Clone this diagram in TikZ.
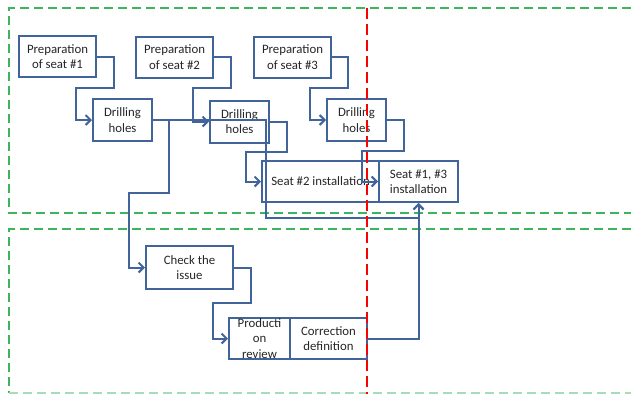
\documentclass[tikz,border=0pt]{standalone}
\usepackage{fontspec}
\setmainfont{Carlito}
\usetikzlibrary{arrows.meta}
\definecolor{boxblue}{HTML}{41659A}
\definecolor{dgreen}{HTML}{3DB55C}
\definecolor{lgreen}{HTML}{A6DDB6}
\definecolor{txt}{HTML}{262626}
\tikzset{
  box/.style={draw=boxblue, line width=2pt, fill=white, inner sep=0pt, align=center,
    text=txt, font=\fontsize{12.8}{15.3}\selectfont},
  conn/.style={draw=boxblue, line width=2pt},
  arr/.style={conn, -{Straight Barb[length=5pt,width=10pt,line width=2pt]}},
  zone/.style={draw=dgreen, line width=1.4pt, dash pattern=on 9pt off 5pt},
  redline/.style={draw=red, line width=2.4pt, dash pattern=on 11pt off 5pt}
}
\begin{document}
\begin{tikzpicture}[x=1pt,y=-1pt]
\useasboundingbox (0,0) rectangle (631,394);
% zones
\draw[zone] (631,8) -- (9,8) -- (9,213) -- (631,213);
\draw[zone] (631,229) -- (9,229) -- (9,393);
\draw[zone, draw=lgreen] (9,393) -- (631,393);
% boxes
\node[box, minimum width=77pt, minimum height=41pt] (p1) at (57.5,56.5) {Preparation\\of seat \#1};
\node[box, minimum width=77pt, minimum height=41pt] (p2) at (174.5,57) {Preparation\\of seat \#2};
\node[box, minimum width=77pt, minimum height=41pt] (p3) at (292.5,57) {Preparation\\of seat \#3};
\node[box, minimum width=59pt, minimum height=42pt] (d1) at (122.5,120) {Drilling\\holes};
\node[box, minimum width=59pt, minimum height=42pt] (d2) at (239.5,121.5) {Drilling\\holes};
\node[box, minimum width=59pt, minimum height=42pt] (d3) at (356.5,120) {Drilling\\holes};
\node[box, minimum width=117pt, minimum height=41pt] (s2) at (320.5,181.5) {Seat \#2 installation};
\node[box, minimum width=79pt, minimum height=41pt] (s13) at (418.5,181.5) {Seat \#1, \#3\\installation};
\node[box, minimum width=87pt, minimum height=43pt] (ci) at (189.5,267.5) {Check the\\issue};
\node[box, minimum width=61pt, minimum height=41pt] (pr) at (259.5,338.5) {Producti\\on\\review};
\node[box, minimum width=77pt, minimum height=41pt] (cd) at (328.5,338.5) {Correction\\definition};
% connectors
\draw[arr] (p1.east) -- ++(17,0) |- (76,88) |- (d1.west);
\draw[arr] (p2.east) -- ++(17,0) |- (193,88) |- (d2.west);
\draw[arr] (p3.east) -- ++(16,0) |- (310,88) |- (d3.west);
\draw[arr] (d1.east) -| (266,218) -| (s13.south);
\draw[arr] (d1.east) -- ++(16,0) |- (129,193) |- (ci.west);
\draw[arr] (d2.east) -- ++(17,0) |- (246,152) |- (s2.west);
\draw[arr] (d3.east) -- ++(17,0) |- (362,151) |- (s13.west);
\draw[arr] (ci.east) -- ++(17,0) |- (213,303) |- (pr.west);
\draw[arr] (cd.east) -| (s13.south);
% red time line
\draw[redline] (367,8) -- (367,394);
\end{tikzpicture}
\end{document}
